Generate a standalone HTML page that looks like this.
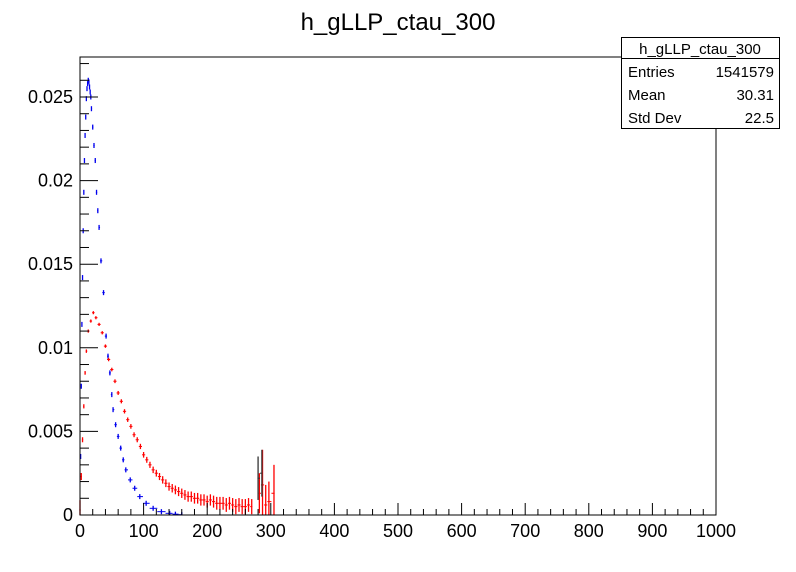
<!DOCTYPE html>
<html><head><meta charset="utf-8"><style>
body{margin:0;background:#fff;}
svg{display:block;font-family:"Liberation Sans",Arial,sans-serif;}
</style></head><body>
<svg id="c" width="796" height="572">
<rect x="0" y="0" width="796" height="572" fill="#fff"/>
<text x="398" y="30" font-size="24" text-anchor="middle">h_gLLP_ctau_300</text>
<g id="plot"></g>
<rect x="80" y="57" width="636" height="458" fill="none" stroke="#000" stroke-width="1"/>
<g>
<rect x="621.5" y="37.5" width="158" height="91" fill="#fff" stroke="#000"/>
<line x1="621.5" y1="58.5" x2="779.5" y2="58.5" stroke="#000"/>
<text x="700" y="54" font-size="15" text-anchor="middle">h_gLLP_ctau_300</text>
<text x="628" y="77" font-size="15">Entries</text>
<text x="774" y="77" font-size="15" text-anchor="end">1541579</text>
<text x="628" y="100" font-size="15">Mean</text>
<text x="774" y="100" font-size="15" text-anchor="end">30.31</text>
<text x="628" y="123" font-size="15">Std Dev</text>
<text x="774" y="123" font-size="15" text-anchor="end">22.5</text>
</g>
</svg>
<script>
const xTicks=[0,100,200,300,400,500,600,700,800,900,1000];
const yTicks=[0,0.005,0.01,0.015,0.02,0.025];
const yTickLabels=["0","0.005","0.01","0.015","0.02","0.025"];
const blueX=[1,2,3,4,5,6,7,8,9,10,11,12,13,14,15,16,17,18,20,22,24,26,28,30,33,37,41,44,47,50,52,56,60,64,68,72,79,86,94,104,115,128,141,150,160];
const blueY=[0.0035,0.0077,0.0114,0.0142,0.0170,0.0193,0.0212,0.0227,0.0238,0.0249,0.0255,0.0258,0.0260,0.0259,0.0256,0.0253,0.0250,0.0243,0.0232,0.0221,0.0212,0.0193,0.0182,0.0172,0.0152,0.0133,0.0107,0.0095,0.0085,0.0072,0.0063,0.0054,0.0047,0.0040,0.0033,0.0027,0.0021,0.0016,0.0011,0.0007,0.0004,0.0002,0.0001,0.00005,0.00002];
const redX=[0,2,4,6,8,10,13,17,21,25,30,35,40,45,50,55,60,65,70,75,80,85,90,95,100,105,110,115,120,125,130,135,140,145,150,155,160,165,170,175,180,185,190,195,200,205,210,215,220,225,230,235,240,245,250,255,260,265,270];
const redY=[0.0003,0.0023,0.0045,0.0065,0.0085,0.0098,0.0110,0.0116,0.0121,0.0118,0.0114,0.0109,0.0101,0.0093,0.0087,0.0080,0.0073,0.0068,0.0062,0.0057,0.0053,0.0048,0.0045,0.0041,0.0036,0.0033,0.0030,0.0027,0.0025,0.0023,0.0021,0.0019,0.0017,0.0016,0.0015,0.0014,0.0013,0.0012,0.0011,0.0011,0.0010,0.0010,0.0009,0.0009,0.0008,0.0009,0.0008,0.0007,0.0007,0.0007,0.0006,0.0007,0.0006,0.0005,0.0006,0.0005,0.0005,0.0006,0.0005];
const spikeX=[282,287,292,297,305];
const spikeY=[0.0013,0.0018,0.0006,0.0008,0.0013];
const spikeErr=[0.0012,0.0021,0.0012,0.0012,0.0017];
const blackX=[280,286];
const blackY=[0.0022,0.0025];
const blackErr=[0.0013,0.0014];
const NS="http://www.w3.org/2000/svg";
const X0=80,X1=716,Y0=515,Y1=57,xMax=1000,yMax=(515-57)/16720;
const sx=v=>X0+v/xMax*(X1-X0);
const sy=v=>Y0-v/yMax*(Y0-Y1);
const svg=document.getElementById('c');
const plot=document.getElementById('plot');
function mk(t,a,p){const e=document.createElementNS(NS,t);for(const k in a)e.setAttribute(k,a[k]);(p||plot).appendChild(e);return e;}
for(let v=0;v<=1000;v+=20){const maj=v%100===0;const l=mk('line',{x1:sx(v),x2:sx(v),y1:Y0,y2:Y0-(maj?12:6),stroke:'#000'},svg);

}
xTicks.forEach(v=>{const t=mk('text',{x:sx(v),y:537,'font-size':18,'text-anchor':'middle'},svg);t.textContent=v;

});
for(let i=0;i<=27;i++){const v=i*0.001;const maj=i%5===0;const l=mk('line',{x1:X0,x2:X0+(maj?18:9),y1:sy(v),y2:sy(v),stroke:'#000'},svg);

}
yTicks.forEach((v,i)=>{const t=mk('text',{x:73,y:sy(v)+6,'font-size':18,'text-anchor':'end'},svg);t.textContent=yTickLabels[i];

});
function pts(xs,ys,col,name,errs){xs.forEach((x,i)=>{const y=ys[i];
const e=errs?errs[i]:Math.max(0.00008,0.00032*Math.sqrt(0.001/y));
const xl=i>0?(xs[i-1]+x)/2:x-1, xr=i<xs.length-1?(xs[i+1]+x)/2:x+1;
const l=mk('line',{x1:sx(x),x2:sx(x),y1:sy(Math.max(0,y-e)),y2:sy(y+e),stroke:col,'stroke-width':1.3});


const h=mk('line',{x1:sx(xl),x2:sx(xr),y1:sy(y),y2:sy(y),stroke:col,'stroke-width':1});

});}
pts(blueX,blueY,'#0000ee','blue-point',blueX.map(()=>0.00015));
pts(redX,redY,'#ff0000','red-point');
pts(spikeX,spikeY,'#ff0000','red-spike',spikeErr);
pts(blackX,blackY,'#333','black-spike',blackErr);
</script>
</body></html>
